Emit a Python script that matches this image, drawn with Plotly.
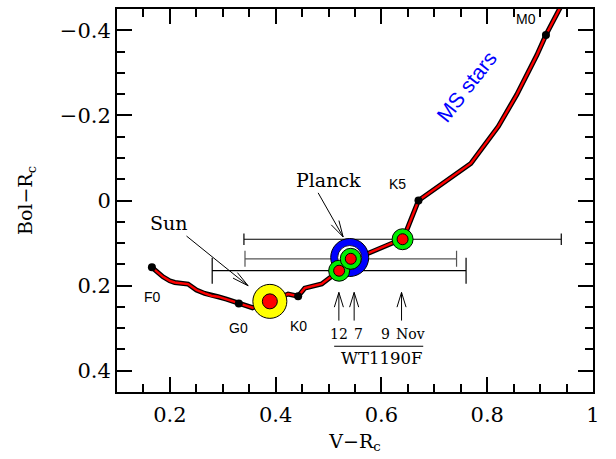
import math
import plotly.graph_objects as go

# ---- data ----
ms_x = [0.166, 0.187, 0.1997, 0.2092, 0.2343, 0.2502, 0.2659, 0.2786, 0.2911, 0.3070, 0.3195, 0.3303,
        0.3562, 0.389, 0.4236, 0.4425, 0.455, 0.487, 0.499, 0.520, 0.542, 0.573, 0.619, 0.641,
        0.670, 0.769, 0.821, 0.856, 0.894, 0.911, 0.945]
ms_y = [0.157, 0.1793, 0.1887, 0.1926, 0.1964, 0.2104, 0.2184, 0.2238, 0.2261, 0.2315, 0.2371, 0.2418,
        0.252, 0.237, 0.2198, 0.225, 0.206, 0.196, 0.185, 0.165, 0.137, 0.125, 0.101, 0.091,
        0.000, -0.087, -0.174, -0.249, -0.342, -0.389, -0.470]

sp_types = ["F0", "G0", "K0", "K5", "M0"]
sp_x = [0.166, 0.3303, 0.4425, 0.670, 0.911]
sp_y = [0.157, 0.2418, 0.225, 0.000, -0.389]

sun_x = [0.389]
sun_y = [0.237]
planck_x = [0.540]
planck_y = [0.134]

obs_dates = ["12", "7", "9"]
obs_x = [0.520, 0.542, 0.640]
obs_y = [0.165, 0.137, 0.091]
obs_err = [0.24, 0.20, 0.30]

x_tickvals = [0.2, 0.4, 0.6, 0.8, 1.0]
x_ticktext = ["0.2", "0.4", "0.6", "0.8", "1"]
y_tickvals = [-0.4, -0.2, 0, 0.2, 0.4]
y_ticktext = ["\u22120.4", "\u22120.2", "0", "0.2", "0.4"]

X_RANGE = [0.1, 1.0]
Y_RANGE = [0.45, -0.45]

# ---- styles ----
W, H = 616, 459
ML, MR, MT, MB = 117, 23, 7, 67
err_colors = ["black", "#555555", "black"]
err_caps = [13, 8, 5.7]
SERIF = "DejaVu Serif"
SANS = "Liberation Sans"

# pixel -> data scale (for annotation arrow geometry only)
PX_X = (W - ML - MR) / (X_RANGE[1] - X_RANGE[0])
PX_Y = (H - MT - MB) / (Y_RANGE[0] - Y_RANGE[1])

fig = go.Figure()

for i in range(len(obs_x)):
    fig.add_trace(go.Scatter(
        x=[obs_x[i]], y=[obs_y[i]], mode="markers",
        marker=dict(size=1, color="rgba(0,0,0,0)"),
        error_x=dict(type="data", array=[obs_err[i]], symmetric=True,
                     color=err_colors[i], thickness=1.2, width=err_caps[i]),
        hoverinfo="skip"))

fig.add_trace(go.Scatter(x=ms_x, y=ms_y, mode="lines",
                         line=dict(color="black", width=5)))
fig.add_trace(go.Scatter(x=ms_x, y=ms_y, mode="lines",
                         line=dict(color="#ff0000", width=2.4)))
fig.add_trace(go.Scatter(x=sp_x, y=sp_y, mode="markers",
                         marker=dict(size=8, color="black")))

fig.add_trace(go.Scatter(x=sun_x, y=sun_y, mode="markers",
                         marker=dict(size=34, color="#ffff00", line=dict(color="black", width=1))))
fig.add_trace(go.Scatter(x=sun_x, y=sun_y, mode="markers",
                         marker=dict(size=15, color="#ff0000", line=dict(color="black", width=1))))

fig.add_trace(go.Scatter(x=planck_x, y=planck_y, mode="markers",
                         marker=dict(size=38, color="#0000ff", line=dict(color="black", width=1))))
fig.add_trace(go.Scatter(x=planck_x, y=planck_y, mode="markers",
                         marker=dict(size=24, color="white", line=dict(color="black", width=0.8))))

for i in range(len(obs_x)):
    fig.add_trace(go.Scatter(x=[obs_x[i]], y=[obs_y[i]], mode="markers",
                             marker=dict(size=21, color="#00ee00", line=dict(color="black", width=1))))
    fig.add_trace(go.Scatter(x=[obs_x[i]], y=[obs_y[i]], mode="markers",
                             marker=dict(size=11, color="#ff0000", line=dict(color="black", width=1))))

shapes = []


def arrow(tx, ty, ax, ay, L, half):
    """tip at data (tx,ty); tail offset (ax, ay) in screen pixels."""
    def d(px, py):
        return tx + px / PX_X, ty + py / PX_Y
    tail = d(ax, ay)
    b = math.atan2(ay, ax)
    w1 = d(L * math.cos(b - math.radians(half)), L * math.sin(b - math.radians(half)))
    w2 = d(L * math.cos(b + math.radians(half)), L * math.sin(b + math.radians(half)))
    path = (f"M{tail[0]},{tail[1]} L{tx},{ty} "
            f"M{w1[0]},{w1[1]} L{tx},{ty} L{w2[0]},{w2[1]}")
    shapes.append(dict(type="path", xref="x", yref="y", path=path,
                       line=dict(color="black", width=1)))


arrow(0.3479, 0.2004, -61.6, -50, 17, 12)
arrow(0.5276, 0.0856, -25, -44.3, 17, 15)
for xx in [0.5195, 0.5484, 0.638]:
    arrow(xx, 0.216, 0, 28.3, 15.5, 17)

shapes.append(dict(type="line", xref="x", yref="y", x0=0.5106, x1=0.679, y0=0.3425, y1=0.3425,
                   line=dict(color="black", width=1.2)))

anns = []


def text(x, y, s, size, family, color="black", angle=0):
    anns.append(dict(x=x, y=y, xref="x", yref="y", text=s, showarrow=False,
                     xanchor="center", yanchor="middle", textangle=angle,
                     font=dict(size=size, family=family, color=color)))


text(0.1988, 0.052, "Sun", 19, SERIF)
text(0.4996, -0.048, "Planck", 19, SERIF)
text(0.520, 0.3135, obs_dates[0], 14, SERIF)
text(0.5573, 0.3135, obs_dates[1], 14, SERIF)
text(0.6078, 0.3135, obs_dates[2], 14, SERIF)
text(0.6552, 0.3135, "Nov", 14, SERIF)
text(0.5995, 0.372, "WT1190F", 16.5, SERIF)

lab_pos = [(0.1662, 0.2278), (0.330, 0.2987), (0.4425, 0.294), (0.6306, -0.038), (0.8728, -0.4266)]
for name, (lx, ly) in zip(sp_types, lab_pos):
    text(lx, ly, name, 14, SANS)

text(0.7607, -0.268, "MS stars", 21, SANS, color="#0000ff", angle=-52)

axis_common = dict(
    showgrid=False, zeroline=False, showline=True, linecolor="black", linewidth=2,
    mirror="allticks", ticks="inside", ticklen=15, tickwidth=1.5, tickcolor="black",
    minor=dict(ticks="inside", ticklen=8, tickwidth=1.5, tickcolor="black", dtick=0.05, showgrid=False),
    tickfont=dict(family=SERIF, size=21, color="black"),
)

fig.update_layout(
    width=W, height=H,
    margin=dict(l=ML, r=MR, t=MT, b=MB),
    paper_bgcolor="white", plot_bgcolor="white",
    showlegend=False,
    annotations=anns,
    shapes=shapes,
    xaxis=dict(axis_common, range=X_RANGE, tickmode="array", tickvals=x_tickvals, ticktext=x_ticktext,
               ticklabelstandoff=3,
               title=dict(text="V\u2212R<sub>c</sub>", font=dict(family=SERIF, size=19, color="black"), standoff=8)),
    yaxis=dict(axis_common, range=Y_RANGE, tickmode="array", tickvals=y_tickvals, ticktext=y_ticktext,
               title=dict(text="Bol\u2212R<sub>c</sub>", font=dict(family=SERIF, size=19, color="black"), standoff=22)),
)

fig.write_html("out.html")
